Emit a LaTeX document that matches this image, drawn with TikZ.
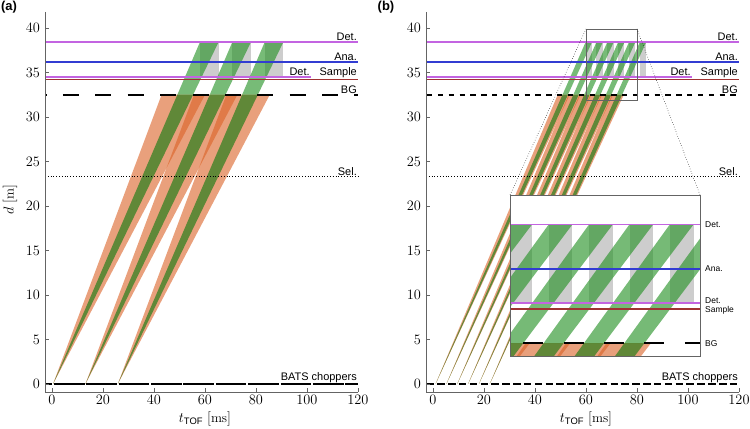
\documentclass[tikz,border=0pt]{standalone}
\usepackage{amsmath}
\usepackage{fontspec}
\newfontfamily\lblfont{Liberation Sans}
\usetikzlibrary{positioning,calc}
\definecolor{det_violet}{RGB}{195,100,225}
\definecolor{ana_blue}{RGB}{50,60,210}
\definecolor{sample_red}{RGB}{160,50,50}
\definecolor{fan_orange}{RGB}{218,97,37}
\definecolor{fan_olive}{RGB}{96,136,56}
\definecolor{fan_green}{RGB}{35,145,35}
\definecolor{det_grey}{RGB}{205,205,205}
\definecolor{spine_grey}{RGB}{100,100,100}
\tikzset{SPINE/.style={draw=spine_grey, line width=0.8bp}}
\tikzset{TICKLBL/.style={font=\fontsize{13.5}{15}\selectfont, inner sep=1bp}}
\tikzset{LBL/.style={font=\lblfont\fontsize{11}{12}\selectfont, text=black, inner sep=1bp, anchor=south east}}
\tikzset{INSETLBL/.style={font=\lblfont\fontsize{8.5}{9.5}\selectfont, text=black, inner sep=1bp, anchor=west, align=left}}
\tikzset{PANELLBL/.style={font=\lblfont\bfseries\fontsize{13}{14}\selectfont, inner sep=0pt}}
\tikzset{DETLINE/.style={draw=det_violet, line width=1.6bp}}
\tikzset{ANALINE/.style={draw=ana_blue, line width=1.6bp}}
\tikzset{SAMPLELINE/.style={draw=sample_red, line width=1.6bp}}
\tikzset{SELLINE/.style={draw=black, line width=0.8bp, dotted}}
\tikzset{CHOPPER/.style={draw=black, line width=1.8bp}}
\tikzset{ORANGEFAN/.style={fill=fan_orange, fill opacity=0.6}}
\tikzset{OLIVEFAN/.style={fill=fan_olive}}
\tikzset{GREENFAN/.style={fill=fan_green, fill opacity=0.62}}
\tikzset{GREYBOX/.style={fill=det_grey}}
\tikzset{ZOOMBOX/.style={draw=spine_grey, line width=0.6bp}}
\tikzset{ZOOMLINK/.style={draw=black, line width=0.5bp, dotted}}

% fans of panel (b), used twice (panel and inset)
\newcommand{\fansb}{%
  \foreach \ts in {1.0,5.25,9.5,13.75,18.0,22.25} {
    \fill[ORANGEFAN] (\ts,0) -- ({\ts+1.474*32.5},32.5) -- ({\ts+1.618*32.5},32.5) -- cycle;
  }
  \foreach \ts in {1.0,5.25,9.5,13.75,18.0,22.25} {
    \fill[OLIVEFAN] (\ts,0) -- ({\ts+1.532*32.5},32.5) -- ({\ts+1.597*32.5},32.5) -- cycle;
    \fill[GREYBOX] ({\ts+1.532*38.4},34.45) rectangle ({\ts+1.597*38.4},38.4);
    \fill[GREENFAN] ({\ts+1.532*32.5},32.5) -- ({\ts+1.532*38.4},38.4) -- ({\ts+1.597*38.4},38.4) -- ({\ts+1.597*32.5},32.5) -- cycle;
  }
}
% beam line positions of panel (b)
\newcommand{\linesb}{%
  \draw[DETLINE] (-2.7,38.4) -- (120,38.4);
  \draw[ANALINE] (-2.7,36.18) -- (120,36.18);
  \draw[DETLINE] (-2.7,34.5) -- (101.5,34.5);
  \draw[SAMPLELINE] (-2.7,34.2) -- (120,34.2);
  \foreach \k in {-13,...,15} {
    \draw[CHOPPER] ({max(-2.7,52.9+4.25*\k)},32.5) -- ({min(120,55.0+4.25*\k)},32.5);
  }
}

\begin{document}
\begin{tikzpicture}
\useasboundingbox (0,0) rectangle (750bp,429bp);

\node[PANELLBL] (lbl_a) at (9bp,422bp) {(a)};
\node[PANELLBL] (lbl_b) at (386bp,422bp) {(b)};

%% panel (a)
\begin{scope}[shift={(52bp,45bp)}, x=2.55bp, y=8.9bp]
\foreach \ts in {0.4,13.1,25.8} {
  \fill[ORANGEFAN] (\ts,0) -- ({\ts+1.31*32.5},32.5) -- ({\ts+1.834*32.5},32.5) -- cycle;
}
\foreach \ts in {0.4,13.1,25.8} {
  \fill[OLIVEFAN] (\ts,0) -- ({\ts+1.50*32.5},32.5) -- ({\ts+1.69*32.5},32.5) -- cycle;
  \fill[GREYBOX] ({\ts+1.50*38.4},34.45) rectangle ({\ts+1.69*38.4},38.4);
  \fill[GREENFAN] ({\ts+1.50*32.5},32.5) -- ({\ts+1.50*38.4},38.4) -- ({\ts+1.69*38.4},38.4) -- ({\ts+1.69*32.5},32.5) -- cycle;
}

\draw[DETLINE] (-2.7,38.4) -- (120,38.4);
\draw[ANALINE] (-2.7,36.18) -- (120,36.18);
\draw[DETLINE] (-2.7,34.5) -- (101.5,34.5);
\draw[SAMPLELINE] (-2.7,34.2) -- (120,34.2);
\foreach \k in {-1,...,9} {
  \draw[CHOPPER] ({max(-2.7,4.3+12.7*\k)},32.5) -- ({min(120,10.6+12.7*\k)},32.5);
}
\draw[SELLINE] (-2.7,23.3) -- (120,23.3);
\foreach \k in {-1,...,9} {
  \draw[CHOPPER] ({max(-2.7,0.75+12.7*\k)},0) -- ({min(120,12.75+12.7*\k)},0);
}
\node[LBL] (lbl_a_det) at (120,38.4) {Det.};
\node[LBL] (lbl_a_ana) at (120,36.18) {Ana.};
\node[LBL] (lbl_a_det2) at (101.5,34.5) {Det.};
\node[LBL, yshift=0.3bp] (lbl_a_sample) at (120,34.2) {Sample};
\node[LBL] (lbl_a_bg) at (120,32.5) {BG};
\node[LBL] (lbl_a_sel) at (120,23.3) {Sel.};
\node[LBL] (lbl_a_bats) at (120,0) {BATS choppers};

% axes
\draw[SPINE] (-2.7,41.8) -- (-2.7,-0.9) -- (120,-0.9);
\foreach \d in {0,5,...,40} {
  \draw[SPINE] (-2.7,\d) -- ++(4bp,0);
  \node[TICKLBL, anchor=east, xshift=-4bp] (ytick_a_\d) at (-2.7,\d) {$\d$};
}
\foreach \t in {0,20,...,120} {
  \draw[SPINE] (\t,-0.9) -- ++(0,4bp);
  \node[TICKLBL, anchor=north, yshift=-2bp] (xtick_a_\t) at (\t,-0.9) {$\t$};
}
\node[TICKLBL, rotate=90] (ylabel_a) at (-16.5,20.7) {$d\;[\mathrm{m}]$};
\node[TICKLBL] (xlabel_a) at (60,-3.95) {$t_{\text{\lblfont TOF}}\;[\mathrm{ms}]$};
\end{scope}

%% panel (b)
\begin{scope}[shift={(433bp,45bp)}, x=2.55bp, y=8.9bp]
\fansb
\linesb
\draw[SELLINE] (-2.7,23.3) -- (120,23.3);
\foreach \k in {-1,...,27} {
  \draw[CHOPPER] ({max(-2.7,1.65+4.25*\k)},0) -- ({min(120,4.6+4.25*\k)},0);
}
\node[LBL] (lbl_b_det) at (120,38.4) {Det.};
\node[LBL] (lbl_b_ana) at (120,36.18) {Ana.};
\node[LBL] (lbl_b_det2) at (101.5,34.5) {Det.};
\node[LBL, yshift=0.3bp] (lbl_b_sample) at (120,34.2) {Sample};
\node[LBL] (lbl_b_bg) at (120,32.5) {BG};
\node[LBL] (lbl_b_sel) at (120,23.3) {Sel.};
\node[LBL] (lbl_b_bats) at (120,0) {BATS choppers};

% zoomed window
\draw[ZOOMBOX] (60,31.9) rectangle (80,39.9);
\coordinate (zoom_nw) at (60,39.9);
\coordinate (zoom_ne) at (80,39.9);

% axes
\draw[SPINE] (-2.7,41.8) -- (-2.7,-0.9) -- (120,-0.9);
\foreach \d in {0,5,...,40} {
  \draw[SPINE] (-2.7,\d) -- ++(4bp,0);
  \node[TICKLBL, anchor=east, xshift=-4bp] (ytick_b_\d) at (-2.7,\d) {$\d$};
}
\foreach \t in {0,20,...,120} {
  \draw[SPINE] (\t,-0.9) -- ++(0,4bp);
  \node[TICKLBL, anchor=north, yshift=-2bp] (xtick_b_\t) at (\t,-0.9) {$\t$};
}
\node[TICKLBL] (xlabel_b) at (60,-3.95) {$t_{\text{\lblfont TOF}}\;[\mathrm{ms}]$};
\end{scope}

%% inset
\coordinate (inset_sw) at (510bp,73bp);
\coordinate (inset_ne) at (700bp,234bp);
\coordinate (inset_nw) at (510bp,234bp);
\fill[white] (inset_sw) rectangle (inset_ne);
\begin{scope}
\clip (inset_sw) rectangle (inset_ne);
\begin{scope}[shift={(-60bp,-568.2bp)}, x=9.5bp, y=20.125bp]
\fansb
\linesb
\end{scope}
\end{scope}
\draw[ZOOMBOX] (inset_sw) rectangle (inset_ne);
\draw[ZOOMLINK] (zoom_nw) -- (inset_nw);
\draw[ZOOMLINK] (zoom_ne) -- (inset_ne);

\begin{scope}[shift={(-60bp,-568.2bp)}, x=9.5bp, y=20.125bp]
\node[INSETLBL] (lbl_i_det) at ($(80,38.4)+(4bp,0)$) {Det.};
\node[INSETLBL] (lbl_i_ana) at ($(80,36.18)+(4bp,0)$) {Ana.};
\node[INSETLBL] (lbl_i_detsample) at ($(80,34.35)+(4bp,0)$) {Det.\\Sample};
\node[INSETLBL] (lbl_i_bg) at ($(80,32.5)+(4bp,0)$) {BG};
\end{scope}

\end{tikzpicture}
\end{document}
